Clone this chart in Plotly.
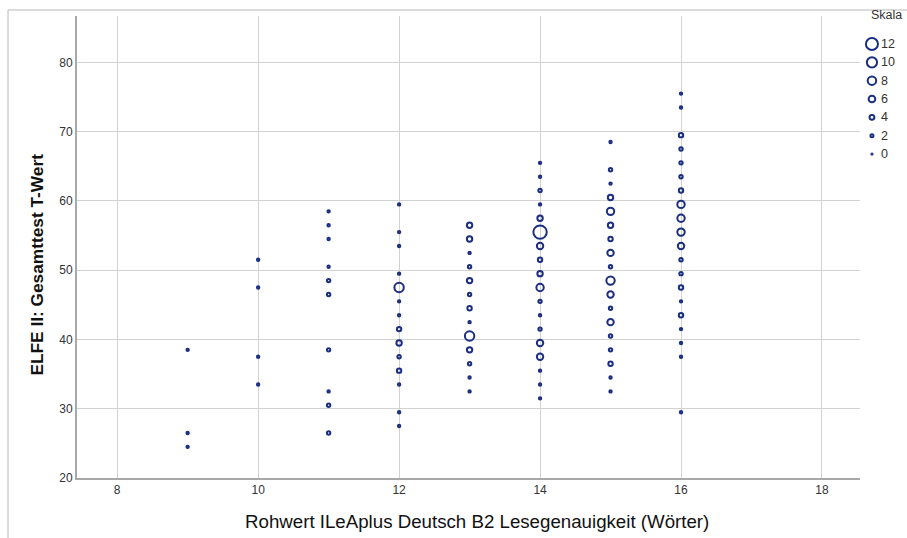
import plotly.graph_objects as go

# ---- data: Rohwert (x), T-Wert (y), count per point (marker size) ----
y9 = [38.5, 26.5, 24.5]
n9 = [1, 1, 1]
y10 = [51.5, 47.5, 37.5, 33.5]
n10 = [1, 1, 1, 1]
y11 = [58.5, 56.5, 54.5, 50.5, 48.5, 46.5, 38.5, 32.5, 30.5, 26.5]
n11 = [1, 1, 1, 1, 2, 2, 2, 1, 2, 2]
y12 = [59.5, 55.5, 53.5, 49.5, 47.5, 45.5, 43.5, 41.5, 39.5, 37.5, 35.5, 33.5, 29.5, 27.5]
n12 = [1, 1, 1, 1, 8, 1, 1, 3, 4, 2, 3, 1, 1, 1]
y13 = [56.5, 54.5, 52.5, 50.5, 48.5, 46.5, 44.5, 42.5, 40.5, 38.5, 36.5, 34.5, 32.5]
n13 = [4, 4, 1, 2, 4, 2, 3, 1, 8, 4, 2, 1, 1]
y14 = [65.5, 63.5, 61.5, 59.5, 57.5, 55.5, 53.5, 51.5, 49.5, 47.5, 45.5, 43.5, 41.5, 39.5, 37.5, 35.5, 33.5, 31.5]
n14 = [1, 1, 2, 1, 4, 12, 5, 3, 4, 6, 2, 1, 2, 5, 5, 1, 1, 1]
y15 = [68.5, 64.5, 62.5, 60.5, 58.5, 56.5, 54.5, 52.5, 50.5, 48.5, 46.5, 44.5, 42.5, 40.5, 38.5, 36.5, 34.5, 32.5]
n15 = [1, 2, 1, 4, 6, 4, 3, 5, 2, 7, 5, 2, 5, 2, 2, 3, 1, 1]
y16 = [75.5, 73.5, 69.5, 67.5, 65.5, 63.5, 61.5, 59.5, 57.5, 55.5, 53.5, 51.5, 49.5, 47.5, 45.5, 43.5, 41.5, 39.5, 37.5, 29.5]
n16 = [1, 1, 3, 2, 2, 2, 3, 6, 6, 6, 5, 2, 2, 3, 1, 3, 1, 1, 1, 1]

col_x = [9, 10, 11, 12, 13, 14, 15, 16]
col_y = [y9, y10, y11, y12, y13, y14, y15, y16]
col_n = [n9, n10, n11, n12, n13, n14, n15, n16]

legend_values = [12, 10, 8, 6, 4, 2, 0]
legend_labels = ["12", "10", "8", "6", "4", "2", "0"]

x_ticks = [8, 10, 12, 14, 16, 18]
y_ticks = [20, 30, 40, 50, 60, 70, 80]

x_title = "Rohwert ILeAplus Deutsch B2 Lesegenauigkeit (Wörter)"
y_title = "ELFE II: Gesamttest T-Wert"
legend_title = "Skala"

# ---- styling ----
COLOR = "#1c2e80"
LW = 2.0
GRID = "#d2d2d2"
AXIS = "#a8a8a8"
FONT = "Liberation Sans Narrow, Arial Narrow, Liberation Sans, Arial"


def msize(n):
    outer = 3.4 + 1.0 * n
    return max(outer - LW, 0.8)


xs, ys, ss, ns = [], [], [], []
for cx, cy, cn in zip(col_x, col_y, col_n):
    for yv, nv in zip(cy, cn):
        xs.append(cx)
        ys.append(yv)
        ns.append(nv)
        ss.append(msize(nv))

fig = go.Figure()
fig.add_trace(go.Scatter(
    x=xs, y=ys, mode="markers",
    marker=dict(symbol="circle-open", color=COLOR, size=ss, opacity=1,
                line=dict(width=LW)),
    customdata=ns, hovertemplate="%{x}, %{y}: %{customdata}<extra></extra>",
    xaxis="x", yaxis="y",
))

# legend drawn in a small side axis
fig.add_trace(go.Scatter(
    x=[10] * len(legend_values), y=legend_values, mode="markers",
    marker=dict(symbol="circle-open", color=COLOR, opacity=1,
                size=[msize(v) * 0.9 for v in legend_values], line=dict(width=LW)),
    xaxis="x2", yaxis="y2", hoverinfo="skip",
))
for v, lab in zip(legend_values, legend_labels):
    fig.add_annotation(x=17, y=v, xref="x2", yref="y2", text=lab, showarrow=False,
                       xanchor="left", yanchor="middle",
                       font=dict(size=12.5, color="#333333", family="Liberation Sans, Arial"))
fig.add_annotation(x=0.978, y=1.0022, xref="paper", yref="paper", text=legend_title,
                   showarrow=False, xanchor="center", yanchor="middle",
                   font=dict(size=12.5, color="#333333", family="Liberation Sans, Arial"))

# axis titles placed as in the reference
fig.add_annotation(x=0.4831, y=-0.0952, xref="paper", yref="paper", text=x_title,
                   showarrow=False, xanchor="center", yanchor="middle",
                   font=dict(size=18.7, color="#111111", family=FONT))
fig.add_annotation(x=-0.0483, y=0.462, xref="paper", yref="paper",
                   text="<b>" + y_title + "</b>", textangle=-90,
                   showarrow=False, xanchor="center", yanchor="middle",
                   font=dict(size=17.3, color="#111111", family=FONT))

fig.update_layout(
    width=907, height=538,
    margin=dict(l=77, r=2, t=16, b=60),
    paper_bgcolor="white", plot_bgcolor="white",
    showlegend=False,
    font=dict(family=FONT, color="#333333"),
    xaxis=dict(
        domain=[0, 0.9457], range=[7.43, 18.54], tickvals=x_ticks,
        showgrid=True, gridcolor=GRID, gridwidth=1, zeroline=False,
        showline=True, linecolor=AXIS, linewidth=2, ticks="",
        tickfont=dict(size=12, color="#333333", family=FONT),
        automargin=False,
    ),
    yaxis=dict(
        range=[20, 86.7], tickvals=y_ticks,
        showgrid=True, gridcolor=GRID, gridwidth=1, zeroline=False,
        showline=True, linecolor=AXIS, linewidth=2, ticks="",
        tickfont=dict(size=12, color="#333333", family=FONT),
        automargin=False,
    ),
    xaxis2=dict(domain=[0.948, 1.0], range=[0, 43], visible=False, anchor="y2", fixedrange=True),
    yaxis2=dict(domain=[0.6814, 0.9593], range=[-1, 13], visible=False, anchor="x2", fixedrange=True),
    shapes=[dict(type="rect", xref="paper", yref="paper",
                 x0=-0.0833, y0=-0.3, x1=1.3, y1=1.013,
                 line=dict(color="#b8b8b8", width=1), fillcolor="rgba(0,0,0,0)", layer="below")],
)

fig.write_html("out.html")
